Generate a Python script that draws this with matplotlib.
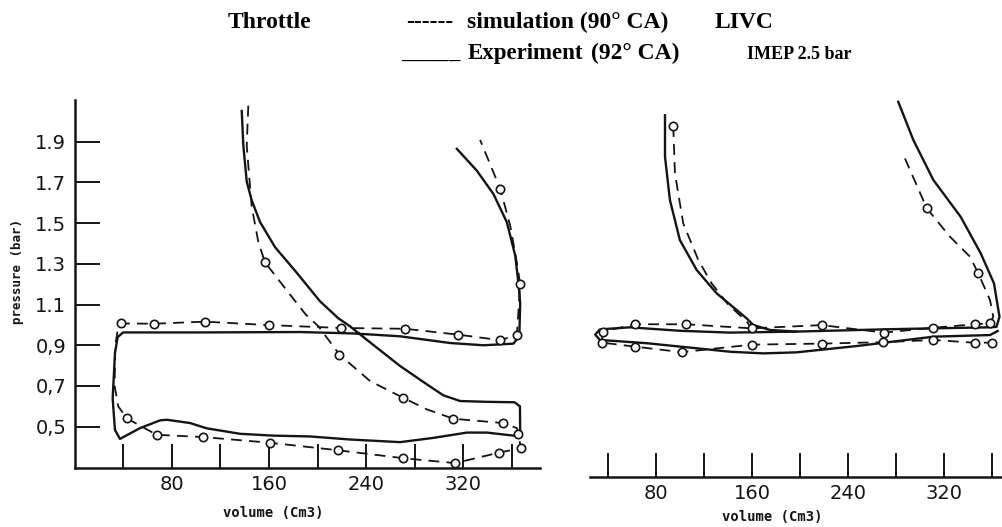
import numpy as np
import matplotlib
matplotlib.use("Agg")
import matplotlib.pyplot as plt

# ---- left panel (throttle), experiment = solid, simulation = dashed ----
left_exp_v = [137.6, 138.9, 141.7, 145.8, 152.7, 165, 182.9, 202, 217, 226.7, 240.5, 267.9,
              289.9, 303.5, 317.3, 340, 362, 366.5, 366.7, 361.2, 339.3, 322.8, 295.3, 267.9,
              226.7, 193.8, 163.6, 136.2, 108.8, 95, 75.9, 70.4, 53.9, 37.4, 33.3, 31.4, 33.3,
              35.5, 40, 100, 185.6, 230, 267.9, 309.2, 336.5, 361.1, 366, 366.7, 365.3, 362.6,
              355.7, 344.7, 331, 314.6]
left_exp_p = [2.051, 1.882, 1.705, 1.612, 1.505, 1.382, 1.256, 1.116, 1.033, 0.993, 0.927, 0.798,
              0.708, 0.654, 0.626, 0.622, 0.62, 0.60, 0.46, 0.456, 0.471, 0.471, 0.445, 0.424,
              0.437, 0.452, 0.456, 0.465, 0.492, 0.518, 0.534, 0.531, 0.493, 0.44, 0.484, 0.638, 0.862,
              0.94, 0.963, 0.963, 0.965, 0.958, 0.944, 0.911, 0.9, 0.908, 0.944, 1.107, 1.203, 1.341,
              1.505, 1.643, 1.758, 1.865]

left_sim_v = [143, 141.7, 145.8, 151.3, 156.8, 174.6, 190.4, 200.7, 218, 243.2, 270.1, 289.9,
              311.8, 352.4, 364, 365.3, 367.2, 349.6, 313.2, 270.6, 217.1, 160.9, 106, 67.7, 43,
              36, 33, 33.5, 36, 38, 65.4, 107.4, 160.1, 219, 272, 315.9, 350.2, 364, 366.7, 363.9,
              358.4, 350.2, 333.7]
left_sim_p = [2.077, 1.88, 1.58, 1.406, 1.307, 1.17, 1.05, 0.993, 0.854, 0.724, 0.643, 0.585,
              0.539, 0.518, 0.493, 0.464, 0.394, 0.373, 0.321, 0.345, 0.384, 0.421, 0.449, 0.46, 0.541,
              0.6, 0.7, 0.9, 0.99, 1.007, 1.006, 1.016, 0.999, 0.985, 0.981, 0.952, 0.925, 0.95, 1.2,
              1.308, 1.49, 1.67, 1.909]

left_pts_v = [38, 65.4, 107.4, 160.1, 219, 272, 315.9, 350.2, 364, 350.2, 366.7, 156.8, 218,
              270.1, 311.8, 352.4, 365.3, 367.2, 349.6, 313.2, 270.6, 217.1, 160.9, 106, 67.7, 43]
left_pts_p = [1.007, 1.006, 1.016, 0.999, 0.985, 0.981, 0.952, 0.925, 0.95, 1.67, 1.2, 1.307, 0.854,
              0.643, 0.539, 0.518, 0.464, 0.394, 0.373, 0.321, 0.345, 0.384, 0.421, 0.449, 0.46, 0.541]

# ---- right panel ----
right_exp_v = [282, 294.6, 311.3, 334.1, 350.8, 361.9, 366.5, 364, 358.6, 311.3, 269.5, 197,
               141.6, 99.8, 58, 33, 29, 33, 72, 113.8, 141.6, 169.4, 197, 247.3, 311.3, 358.6, 365]
right_exp_p = [2.096, 1.908, 1.712, 1.531, 1.352, 1.204, 1.04, 0.99, 0.988, 0.983, 0.978, 0.967,
               0.962, 0.971, 0.988, 0.978, 0.952, 0.926, 0.91, 0.885, 0.868, 0.86, 0.865, 0.896,
               0.942, 0.95, 0.97]
right_exp2_v = [87.3, 87.3, 91.4, 99.7, 113.7, 130.4, 155.5, 161, 175, 197]
right_exp2_p = [2.03, 1.826, 1.614, 1.417, 1.27, 1.155, 1.032, 0.999, 0.975, 0.967]

right_sim_v = [287.6, 305.8, 325.2, 341.9, 348.8, 358.6, 361.3, 358.6, 346, 311.3, 270, 218,
               159.7, 104.8, 62.4, 35.3, 34.5, 62.3, 101.3, 159.7, 218.1, 269.5, 311.3, 346, 360, 362]
right_sim_p = [1.818, 1.573, 1.433, 1.335, 1.253, 1.122, 1.04, 1.008, 1.003, 0.986, 0.962, 0.999,
               0.983, 1.003, 1.003, 0.967, 0.913, 0.893, 0.866, 0.903, 0.908, 0.915, 0.926, 0.912,
               0.913, 0.96]
right_sim2_v = [94.2, 95.6, 102.5, 115.1, 126.2, 140, 155, 159.7]
right_sim2_p = [1.977, 1.745, 1.499, 1.319, 1.204, 1.1, 1.02, 0.983]

right_pts_v = [35.3, 62.4, 104.8, 159.7, 218, 270, 311.3, 346, 358.6,
               34.5, 62.3, 101.3, 159.7, 218.1, 269.5, 311.3, 346, 360, 94.2, 305.8, 348.8]
right_pts_p = [0.967, 1.003, 1.003, 0.983, 0.999, 0.962, 0.986, 1.003, 1.008,
               0.913, 0.893, 0.866, 0.903, 0.908, 0.915, 0.926, 0.912, 0.913, 1.977, 1.573, 1.253]

vol_ticks = [40, 80, 120, 160, 200, 240, 280, 320, 360]
vol_labels = ["", "80", "", "160", "", "240", "", "320", ""]
p_ticks = [0.5, 0.7, 0.9, 1.1, 1.3, 1.5, 1.7, 1.9]
p_labels = ["0,5", "0,7", "0,9", "1.1", "1.3", "1.5", "1.7", "1.9"]

W, H = 1002, 527
ink = "#141414"
tickfont = dict(family=["DejaVu Sans"], size=14)
mono = ["DejaVu Sans Mono"]


def px_axes(fig, x0, y0, x1, y1):
    # pixel box (from top-left) -> figure fraction
    return fig.add_axes([x0 / W, 1 - y1 / H, (x1 - x0) / W, (y1 - y0) / H])


fig = plt.figure(figsize=(W / 100, H / 100), dpi=100)

ax1 = px_axes(fig, 74.5, 100, 540, 468)
ax1.set_xlim(0, 383)
ax1.set_ylim(0.297, 2.105)
ax2 = px_axes(fig, 590, 100, 1002, 476.7)
ax2.set_xlim(24.7, 368.6)
ax2.set_ylim(0.254, 2.105)

for ax, ev, ep, sv, sp, mv, mp in [
        (ax1, left_exp_v, left_exp_p, left_sim_v, left_sim_p, left_pts_v, left_pts_p),
        (ax2, right_exp_v, right_exp_p, right_sim_v, right_sim_p, right_pts_v, right_pts_p)]:
    ax.plot(ev, ep, color=ink, lw=1.7, solid_joinstyle="round")
    ln, = ax.plot(sv, sp, color=ink, lw=1.3)
    ln.set_dashes((6, 4))
    ax.plot(mv, mp, ls="none", marker="o", ms=6, mfc="white", mec=ink, mew=1.2, zorder=3)
    for s in ["top", "right"]:
        ax.spines[s].set_visible(False)
    ax.spines["bottom"].set_linewidth(1.8)
    ax.spines["bottom"].set_color(ink)
    ax.set_xticks(vol_ticks)
    ax.set_xticklabels(vol_labels, fontdict=tickfont)
    ax.tick_params(axis="x", direction="in", length=17, width=1.4, pad=5, colors=ink)
    ax.patch.set_alpha(0)

ax2.plot(right_exp2_v, right_exp2_p, color=ink, lw=1.7)
ln, = ax2.plot(right_sim2_v, right_sim2_p, color=ink, lw=1.3)
ln.set_dashes((6, 4))

ax1.spines["left"].set_linewidth(1.8)
ax1.spines["left"].set_color(ink)
ax1.set_yticks(p_ticks)
ax1.set_yticklabels(p_labels, fontdict=tickfont)
ax1.tick_params(axis="y", direction="in", length=18, width=1.4, pad=6, colors=ink)

ax2.spines["left"].set_visible(False)
ax2.set_yticks([])

# axis titles
fig.text(273 / W, 1 - 513 / H, "volume (Cm3)", family=mono, weight="bold", size=10,
         ha="center", va="center", color=ink)
fig.text(772 / W, 1 - 517 / H, "volume (Cm3)", family=mono, weight="bold", size=10,
         ha="center", va="center", color=ink)
fig.text(18 / W, 1 - 272 / H, "pressure (bar)", family=mono, weight="bold", size=9,
         rotation=90, ha="center", va="center", color=ink)

# header
serif = dict(family=["Liberation Serif", "DejaVu Serif"], weight="bold", color="black",
             va="baseline")
header = [(228, 28, "Throttle", 17),
          (406, 28, "------", 17),
          (467, 28, "simulation (90\u00b0 CA)", 17),
          (715, 28, "LIVC", 17),
          (401, 59, "_____", 17),
          (468, 59, "Experiment", 16.5),
          (591, 59, "(92\u00b0 CA)", 17),
          (747, 59, "IMEP 2.5 bar", 13)]
for hx, hy, txt, fs in header:
    fig.text(hx / W, 1 - hy / H, txt, size=fs, **serif)

fig.savefig("out.png", dpi=100, facecolor="white")
